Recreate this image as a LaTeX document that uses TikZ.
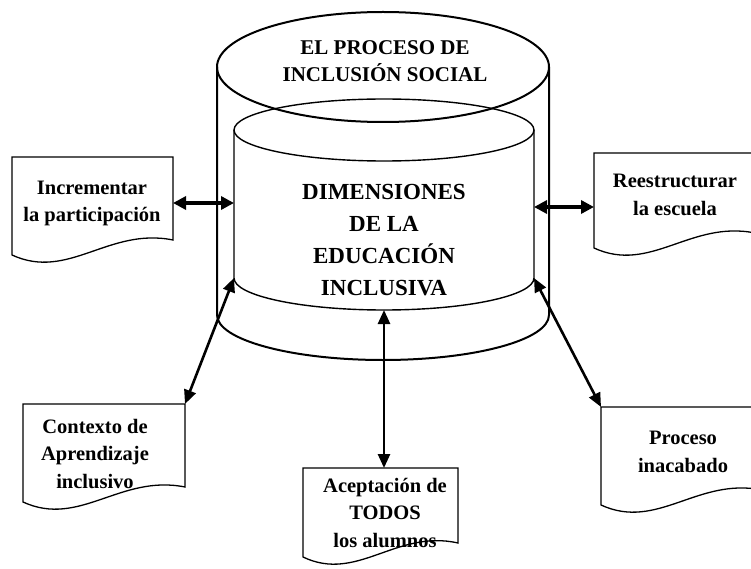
\documentclass[tikz,border=0pt]{standalone}
\usepackage{fontspec}
\setmainfont{Liberation Serif}
\usetikzlibrary{arrows.meta}
\begin{document}
\begin{tikzpicture}[x=1pt,y=-1pt,
  outercyl/.style={line width=2pt},
  innercyl/.style={line width=1.4pt},
  docline/.style={line width=1.3pt, fill=white},
  link/.style={line width=2.6pt, {Triangle[length=14pt,width=12pt]}-{Triangle[length=14pt,width=12pt]}},
  hlink/.style={line width=3.4pt, {Triangle[length=13pt,width=13pt]}-{Triangle[length=13pt,width=13pt]}},
  boxtxt/.style={align=center, anchor=base, inner sep=0pt, font=\fontsize{20.5}{27.5}\selectfont\bfseries},
  titletxt/.style={align=center, anchor=base, inner sep=0pt, font=\fontsize{21}{27}\selectfont\bfseries},
  dimtxt/.style={align=center, anchor=base, inner sep=0pt, font=\fontsize{23}{31.7}\selectfont\bfseries}]
\useasboundingbox (0,0) rectangle (751,569);

% outer cylinder
\draw[outercyl] (383,67) ellipse [x radius=166pt, y radius=55pt];
\draw[outercyl] (217,67) -- (217,315) arc[start angle=180, end angle=360, x radius=166pt, y radius=45pt] -- (549,67);
% inner cylinder
\draw[innercyl] (384,130) ellipse [x radius=150pt, y radius=31pt];
\draw[innercyl] (234,130) -- (234,278) arc[start angle=180, end angle=360, x radius=150pt, y radius=32pt] -- (534,130);

\coordinate (inW) at (234,203);
\coordinate (inE) at (534,207);
\coordinate (inSW) at (234,278);
\coordinate (inSE) at (534,278);
\coordinate (inS) at (384,310);

% document boxes
\draw[docline] (12,157) -- (173,157) -- (173,240) .. controls (108.6,227) and (68.4,281) .. (12,255) -- cycle;
\draw[docline] (594,153) -- (755,153) -- (755,233) .. controls (690.6,220) and (650.4,274) .. (594,248) -- cycle;
\draw[docline] (23,404) -- (185,404) -- (185,487) .. controls (120.2,474) and (79.7,528) .. (23,502) -- cycle;
\draw[docline] (303,468) -- (458,468) -- (458,543) .. controls (396,529) and (357.25,583) .. (303,557) -- cycle;
\draw[docline] (601,407) -- (762,407) -- (762,490) .. controls (697.6,477) and (657.4,531) .. (601,505) -- cycle;

\coordinate (incE) at (173,203);
\coordinate (reeW) at (594,207);
\coordinate (ctxNE) at (185,404);
\coordinate (aceN) at (384,468);
\coordinate (proNW) at (601,407);

% texts (anchor base = baseline of the last line)
\node[titletxt] (titulo) at (385,82) {EL PROCESO DE\\INCLUSIÓN SOCIAL};
\node[dimtxt] (dim) at (384,295) {DIMENSIONES\\DE LA\\EDUCACIÓN\\INCLUSIVA};
\node[boxtxt] (inc) at (92,222) {Incrementar\\la participación};
\node[boxtxt] (ree) at (675,215) {Reestructurar\\la escuela};
\node[boxtxt] (ctx) at (95,488) {Contexto de\\Aprendizaje\\inclusivo};
\node[boxtxt] (ace) at (385,547) {Aceptación de\\TODOS\\los alumnos};
\node[boxtxt] (pro) at (683,472) {Proceso\\inacabado};

% connectors
\draw[hlink] (incE) -- (inW);
\draw[hlink] (inE) -- (reeW);
\draw[link] (ctxNE) -- (inSW);
\draw[link] (aceN) -- (inS);
\draw[link] (inSE) -- (proNW);
\end{tikzpicture}
\end{document}
